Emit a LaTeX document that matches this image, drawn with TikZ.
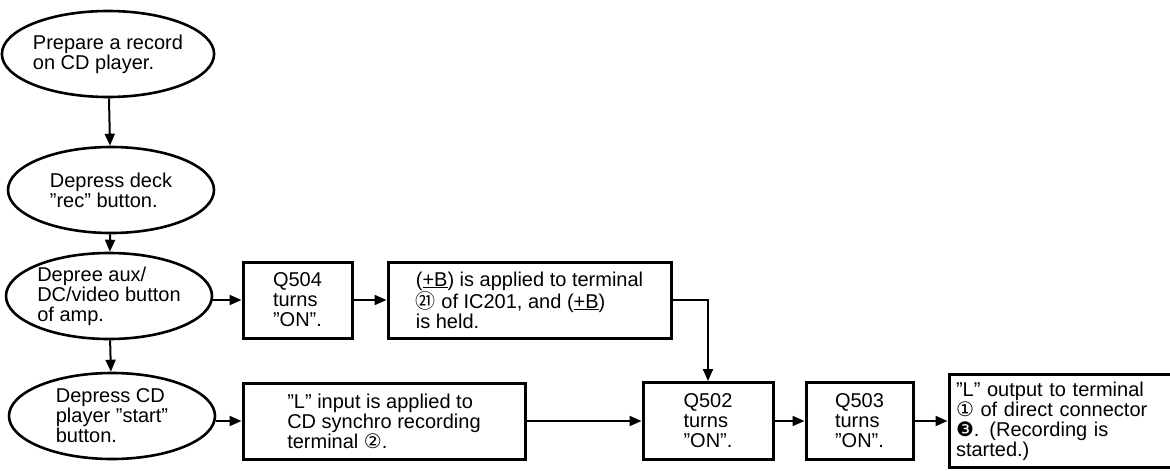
\documentclass[tikz,border=0pt]{standalone}
\usepackage{fontspec}
\setmainfont{Liberation Sans}
\newfontfamily\symfont{DejaVu Sans}
\newfontfamily\cjkfont{Noto Sans CJK SC}
\usetikzlibrary{positioning, arrows.meta, shapes.geometric}

\newcommand{\supplyB}{(\underline{+B})}

\begin{document}
\begin{tikzpicture}[
        x=1pt, y=-1pt,
        font=\fontsize{20}{20}\selectfont,
        stepNode/.style={draw, ellipse, line width=2.6pt, minimum width=206pt, minimum height=86pt, inner sep=0pt, align=left},
        boxNode/.style={draw, rectangle, line width=3pt, minimum height=76pt, inner sep=4pt, align=left},
        arrow/.style={-{Triangle[length=12pt, width=10pt]}, line width=2pt}
    ]
        \useasboundingbox (0,0) rectangle (1170,471);

        % Nodes
        \node[stepNode] (prep) at (108,54) {Prepare a record\\on CD player.};
        \node[stepNode] (deck) at (111,190) {Depress deck\\''rec'' button.};
        \node[stepNode] (amp) at (109,296) {Depree aux/\\DC/video button\\of amp.};
        \node[stepNode] (start) at (112,416) {Depress CD\\player ''start''\\button.};

        \node[boxNode, minimum width=109pt] (qfour) at (297.5,300) {Q504\\turns\\''ON''.};
        \node[boxNode, minimum width=283pt, right=33pt of qfour] (held) {\supplyB{} is applied to terminal\\ {\cjkfont ㉑} of IC201, and \supplyB\\is held.};

        \node[boxNode, minimum width=282pt] (linput) at (384,421) {''L'' input is applied to\\CD synchro recording\\terminal {\symfont ②}.};
        \node[boxNode, minimum width=130pt, minimum height=77pt] (qtwo) at (708,421) {Q502\\turns\\''ON''.};
        \node[boxNode, minimum width=107pt, minimum height=77pt, right=30pt of qtwo] (qthree) {Q503\\turns\\''ON''.};
        \node[boxNode, minimum width=225pt, minimum height=93pt, text width=211pt, inner xsep=7pt, right=33pt of qthree] (loutput) {''L'' output to terminal\\ {\symfont ①} of direct connector\\ {\symfont ❸}. (Recording is\\started.)};

        % Arrows
        \draw[arrow] (prep) -- (deck);
        \draw[arrow] (deck) -- (amp);
        \draw[arrow] (amp) -- (start);
        \draw[arrow] (amp.east |- qfour) -- (qfour);
        \draw[arrow] (qfour) -- (held);
        \draw[arrow] (held.east) -| (qtwo.north);
        \draw[arrow] (start.east |- linput) -- (linput);
        \draw[arrow] (linput) -- (qtwo);
        \draw[arrow] (qtwo) -- (qthree);
        \draw[arrow] (qthree) -- (loutput);
    \end{tikzpicture}
\end{document}
